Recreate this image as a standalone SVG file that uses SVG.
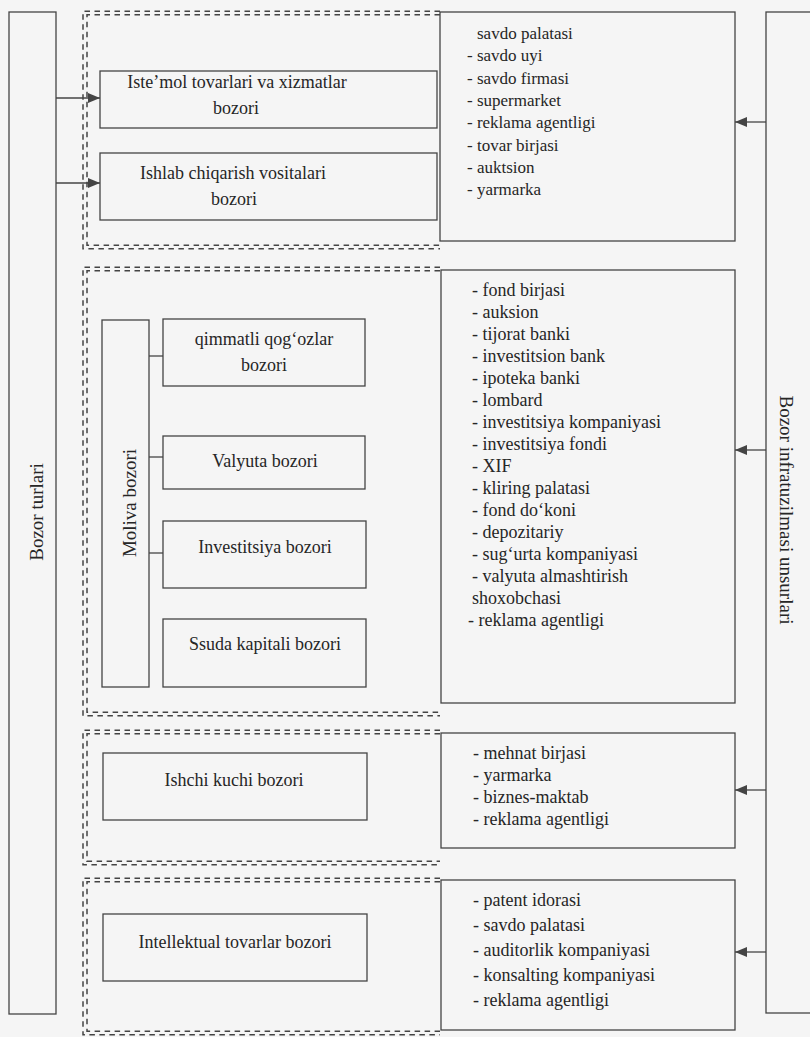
<svg xmlns="http://www.w3.org/2000/svg" width="810" height="1037" viewBox="0 0 810 1037">
<defs>
<style>
.bx{fill:none;stroke:#444;stroke-width:1.3}
.ln{fill:none;stroke:#444;stroke-width:1.3}
.dsh{fill:none;stroke:#444;stroke-width:1.5;stroke-dasharray:5.5 4.5}
text{font-family:"Liberation Serif","Times New Roman",serif;fill:#262626}
.t{font-size:18px}
.s{font-size:17px}
.c{text-anchor:middle}
.v{font-size:19px;text-anchor:middle}
</style>
<marker id="ah" viewBox="0 0 12 10" refX="12" refY="5" markerWidth="12" markerHeight="10" markerUnits="userSpaceOnUse" orient="auto">
<path d="M0,0 L12,5 L0,10 Z" fill="#444"/>
</marker>
</defs>
<rect x="0" y="0" width="810" height="1037" fill="#f5f5f5"/>

<g id="group-frames">
<path class="dsh" d="M440,11.2 H83 V248.8 H440"/>
<path class="dsh" d="M440,14.8 H87 V245.2 H440"/>
<path class="dsh" d="M440,267.2 H83 V715.8 H440"/>
<path class="dsh" d="M440,270.8 H87 V712.2 H440"/>
<path class="dsh" d="M440,730.2 H83 V864.8 H440"/>
<path class="dsh" d="M440,733.8 H87 V861.2 H440"/>
<path class="dsh" d="M440,878.2 H83 V1034.8 H440"/>
<path class="dsh" d="M440,881.8 H87 V1031.2 H440"/>
</g>

<g id="bozor-turlari">
<rect class="bx" x="9" y="12" width="47" height="1002"/>
<text class="v" transform="translate(43,512) rotate(-90)">Bozor turlari</text>
</g>

<g id="infratuzilma">
<rect class="bx" x="766" y="12" width="60" height="1001"/>
<text class="v" transform="translate(780,510) rotate(90)">Bozor infratuzilmasi unsurlari</text>
</g>

<g id="istemol">
<rect class="bx" x="100" y="71" width="337" height="57"/>
<text class="t c" x="237" y="88">Iste’mol tovarlari va xizmatlar</text>
<text class="t c" x="236" y="114">bozori</text>
</g>

<g id="ishlab">
<rect class="bx" x="100" y="153" width="337" height="67"/>
<text class="t c" x="233" y="179">Ishlab chiqarish vositalari</text>
<text class="t c" x="234" y="205">bozori</text>
</g>

<g id="moliva">
<rect class="bx" x="102" y="320" width="47" height="367"/>
<text class="v" transform="translate(136,503) rotate(-90)">Moliva bozori</text>
</g>

<g id="qimmatli">
<rect class="bx" x="163" y="319" width="202" height="67"/>
<text class="t c" x="264" y="345">qimmatli qog‘ozlar</text>
<text class="t c" x="264" y="371">bozori</text>
</g>

<g id="valyuta">
<rect class="bx" x="163" y="436" width="202" height="53"/>
<text class="t c" x="265" y="467">Valyuta bozori</text>
</g>

<g id="investitsiya">
<rect class="bx" x="163" y="521" width="203" height="67"/>
<text class="t c" x="265" y="553">Investitsiya bozori</text>
</g>

<g id="ssuda">
<rect class="bx" x="163" y="619" width="203" height="68"/>
<text class="t c" x="265" y="650">Ssuda kapitali bozori</text>
</g>

<g id="ishchi">
<rect class="bx" x="103" y="753" width="264" height="67"/>
<text class="t c" x="234" y="786">Ishchi kuchi bozori</text>
</g>

<g id="intellektual">
<rect class="bx" x="103" y="914" width="264" height="67"/>
<text class="t c" x="235" y="948">Intellektual tovarlar bozori</text>
</g>

<g id="infra-tovar">
<rect class="bx" x="440" y="12" width="295" height="229"/>
<text class="s" x="477" y="39">savdo palatasi</text>
<text class="s" x="467" y="61.3">- savdo uyi</text>
<text class="s" x="467" y="83.6">- savdo firmasi</text>
<text class="s" x="467" y="105.9">- supermarket</text>
<text class="s" x="467" y="128.2">- reklama agentligi</text>
<text class="s" x="467" y="150.5">- tovar birjasi</text>
<text class="s" x="467" y="172.8">- auktsion</text>
<text class="s" x="467" y="195.1">- yarmarka</text>
</g>

<g id="infra-moliya">
<rect class="bx" x="441" y="270" width="294" height="433"/>
<text class="t" x="472" y="296">- fond birjasi</text>
<text class="t" x="472" y="318">- auksion</text>
<text class="t" x="472" y="340">- tijorat banki</text>
<text class="t" x="472" y="362">- investitsion bank</text>
<text class="t" x="472" y="384">- ipoteka banki</text>
<text class="t" x="472" y="406">- lombard</text>
<text class="t" x="472" y="428">- investitsiya kompaniyasi</text>
<text class="t" x="472" y="450">- investitsiya fondi</text>
<text class="t" x="472" y="472">- XIF</text>
<text class="t" x="472" y="494">- kliring palatasi</text>
<text class="t" x="472" y="516">- fond do‘koni</text>
<text class="t" x="472" y="538">- depozitariy</text>
<text class="t" x="472" y="560">- sug‘urta kompaniyasi</text>
<text class="t" x="472" y="582">- valyuta almashtirish</text>
<text class="t" x="472" y="604">shoxobchasi</text>
<text class="t" x="468" y="626">- reklama agentligi</text>
</g>

<g id="infra-mehnat">
<rect class="bx" x="441" y="733" width="294" height="115"/>
<text class="t" x="473" y="759">- mehnat birjasi</text>
<text class="t" x="473" y="781">- yarmarka</text>
<text class="t" x="473" y="803">- biznes-maktab</text>
<text class="t" x="473" y="825">- reklama agentligi</text>
</g>

<g id="infra-intellekt">
<rect class="bx" x="441" y="880" width="294" height="150"/>
<text class="t" x="473" y="906">- patent idorasi</text>
<text class="t" x="473" y="931">- savdo palatasi</text>
<text class="t" x="473" y="956">- auditorlik kompaniyasi</text>
<text class="t" x="473" y="981">- konsalting kompaniyasi</text>
<text class="t" x="473" y="1006">- reklama agentligi</text>
</g>

<g id="connectors">
<line class="ln" x1="56" y1="98" x2="100" y2="98" marker-end="url(#ah)"/>
<line class="ln" x1="56" y1="183" x2="100" y2="183" marker-end="url(#ah)"/>
<line class="ln" x1="766" y1="122" x2="735" y2="122" marker-end="url(#ah)"/>
<line class="ln" x1="766" y1="450" x2="735" y2="450" marker-end="url(#ah)"/>
<line class="ln" x1="766" y1="790" x2="735" y2="790" marker-end="url(#ah)"/>
<line class="ln" x1="766" y1="952" x2="735" y2="952" marker-end="url(#ah)"/>
<line class="ln" x1="149" y1="356" x2="163" y2="356"/>
<line class="ln" x1="149" y1="457" x2="163" y2="457"/>
<line class="ln" x1="149" y1="553" x2="163" y2="553"/>
</g>
</svg>
